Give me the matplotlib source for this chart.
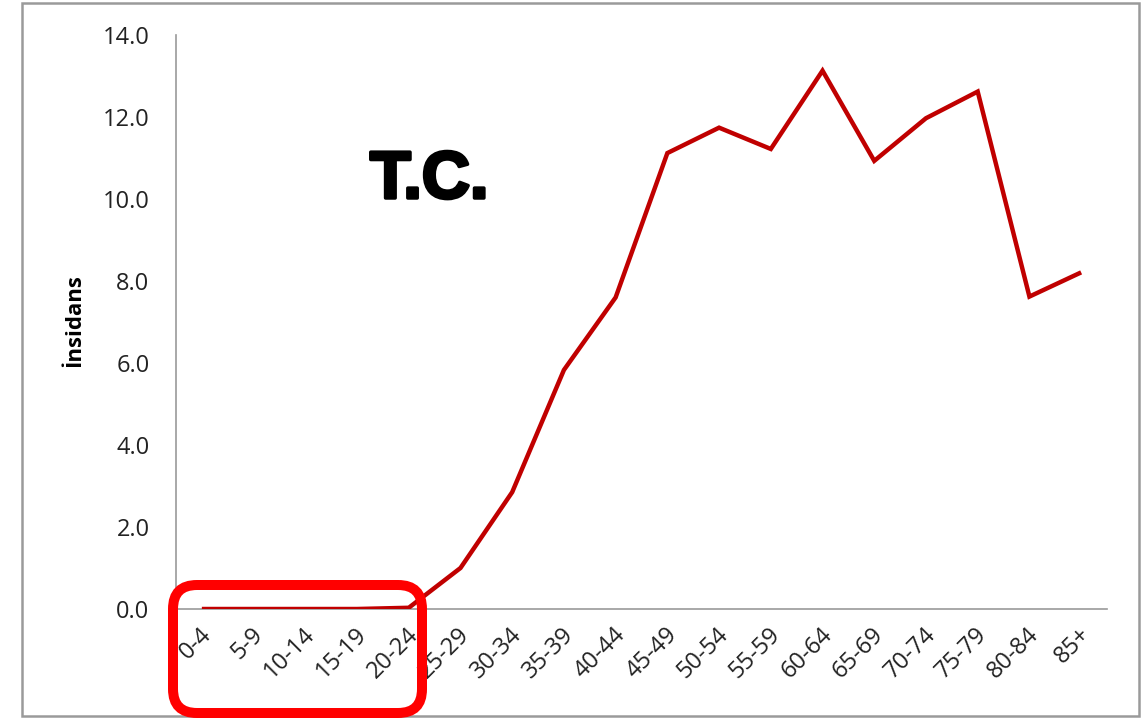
import matplotlib
matplotlib.use("Agg")
import matplotlib.pyplot as plt
from matplotlib.patches import Rectangle, FancyBboxPatch
from matplotlib.transforms import ScaledTranslation
import matplotlib.patheffects as pe

# Age groups and incidence values
age_groups = ["0-4", "5-9", "10-14", "15-19", "20-24", "25-29", "30-34", "35-39",
              "40-44", "45-49", "50-54", "55-59", "60-64", "65-69", "70-74",
              "75-79", "80-84", "85+"]
incidence = [0.0, 0.0, 0.0, 0.0, 0.03, 1.0, 2.85, 5.83, 7.6, 11.12, 11.74, 11.22,
             13.13, 10.93, 11.97, 12.62, 7.62, 8.21]
y_ticks = [0.0, 2.0, 4.0, 6.0, 8.0, 10.0, 12.0, 14.0]
y_label = "İnsidans"
title_text = "T.C."

W, H, DPI = 1145, 719, 100
fig = plt.figure(figsize=(W / DPI, H / DPI), dpi=DPI)
fig.patch.set_facecolor("white")

ax = fig.add_axes([176 / W, 1 - 609 / H, (1107 - 176) / W, (609 - 35) / H])
x = list(range(len(age_groups)))
ax.plot(x, incidence, color="#C00000", lw=3.2, solid_joinstyle="miter",
        solid_capstyle="butt", zorder=3)

ax.set_xlim(-0.5, len(age_groups) - 0.5)
ax.set_ylim(0, 14)
ax.set_yticks(y_ticks)
ax.set_yticklabels([f"{v:.1f}" for v in y_ticks], fontsize=17,
                   family="Open Sans", color="#222222")
ax.set_xticks(x)
ax.set_xticklabels(age_groups, rotation=45, ha="right", va="center",
                   rotation_mode="anchor", fontsize=17, family="Open Sans",
                   color="#222222")
ax.tick_params(axis="y", length=0, pad=19)
ax.tick_params(axis="x", length=0, pad=16)
shift = ScaledTranslation(6 / DPI, 0, fig.dpi_scale_trans)
for lbl in ax.get_xticklabels():
    lbl.set_transform(lbl.get_transform() + shift)

for side in ["top", "right"]:
    ax.spines[side].set_visible(False)
for side in ["left", "bottom"]:
    ax.spines[side].set_color("#999999")
    ax.spines[side].set_linewidth(1.2)

ax.set_ylabel(y_label, fontsize=16, fontweight="bold", family="Open Sans")
ax.yaxis.set_label_coords(-91 / (1107 - 176), (609 - 321) / (609 - 35))

# Heavy title inside the plot area
fig.text(370 / W, 1 - 198 / H, title_text, fontsize=48, fontweight="bold",
         family="Liberation Sans", color="black", ha="left", va="baseline",
         path_effects=[pe.withStroke(linewidth=2.5, foreground="black")])

# Outer frame
fig.add_artist(Rectangle((22 / W, 1 - 716 / H), (1139 - 22) / W, (716 - 3) / H,
                         transform=fig.transFigure, fill=False,
                         edgecolor="#9a9a9a", lw=1.8))

# Highlight box around the youngest age groups
fig.add_artist(FancyBboxPatch((1.73, 0.06), 2.49, 1.28,
                              boxstyle="round,pad=0,rounding_size=0.24",
                              transform=fig.dpi_scale_trans, fill=False,
                              edgecolor="#FF0000", lw=7.2, zorder=10))

fig.savefig("out.png", dpi=DPI)
